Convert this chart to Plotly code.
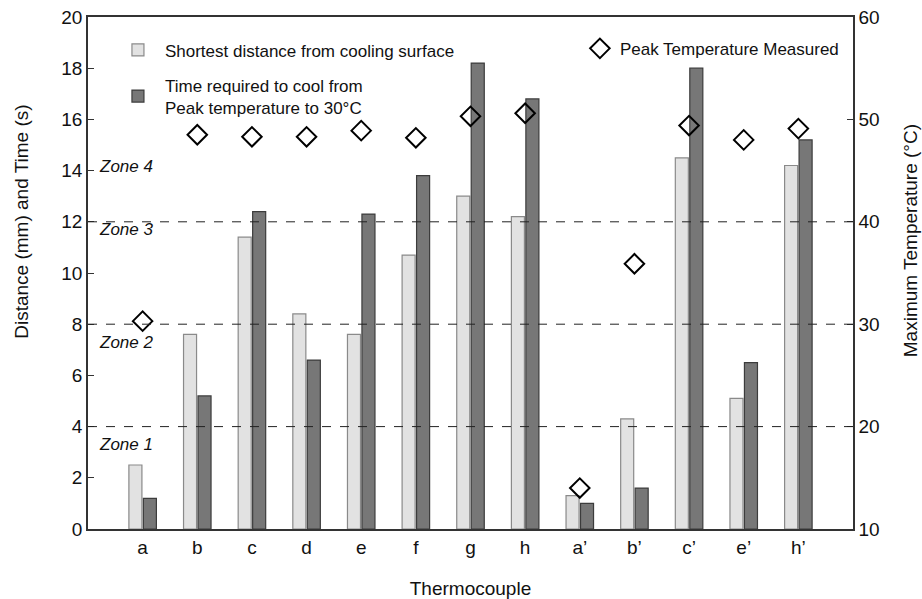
import plotly.graph_objects as go

categories = ["a", "b", "c", "d", "e", "f", "g", "h", "a\u2019", "b\u2019", "c\u2019", "e\u2019", "h\u2019"]
distance_mm = [2.5, 7.6, 11.4, 8.4, 7.6, 10.7, 13.0, 12.2, 1.3, 4.3, 14.5, 5.1, 14.2]
cool_time_s = [1.2, 5.2, 12.4, 6.6, 12.3, 13.8, 18.2, 16.8, 1.0, 1.6, 18.0, 6.5, 15.2]
peak_temp_c = [30.3, 48.5, 48.3, 48.3, 48.9, 48.2, 50.3, 50.6, 14.0, 35.9, 49.4, 48.0, 49.1]
zone_bounds = [4, 8, 12]
zone_labels = ["Zone 1", "Zone 2", "Zone 3", "Zone 4"]
zone_label_y = [3.3, 7.3, 11.7, 14.15]

FONT = "Liberation Sans, Arial, Helvetica, sans-serif"
xidx = list(range(len(categories)))

fig = go.Figure()
fig.add_trace(go.Bar(
    x=xidx, y=distance_mm, name="Shortest distance from cooling surface",
    marker=dict(color="#e2e2e2", line=dict(color="#8a8a8a", width=1.2)),
    legend="legend", legendgroup="g1",
))
fig.add_trace(go.Bar(
    x=xidx, y=cool_time_s, name="Time required to cool from<br>Peak temperature to 30\u00b0C",
    marker=dict(color="#777777", line=dict(color="#3c3c3c", width=1.2)),
    legend="legend", legendgroup="g2",
))
fig.add_trace(go.Scatter(
    x=xidx, y=peak_temp_c, yaxis="y2", mode="markers",
    name="Peak Temperature Measured",
    marker=dict(symbol="diamond-open", size=15, color="black", line=dict(width=2, color="black")),
    legend="legend2",
))

for yb in zone_bounds:
    fig.add_shape(type="line", xref="paper", x0=0, x1=1, yref="y", y0=yb, y1=yb,
                  line=dict(color="#222222", width=1, dash="dash"), layer="above")

for lab, yl in zip(zone_labels, zone_label_y):
    fig.add_annotation(text=lab, xref="paper", x=0.012, xanchor="left", yref="y", y=yl,
                       yanchor="middle", showarrow=False,
                       font=dict(family=FONT, size=17, color="#111111", style="italic"))

fig.add_annotation(text="Distance (mm) and Time (s)", xref="paper", yref="paper",
                   x=-0.0863, y=0.6, textangle=-90, showarrow=False, xanchor="center", yanchor="middle",
                   font=dict(family=FONT, size=19, color="#111111"))
fig.add_annotation(text="Maximum Temperature (\u00b0C)", xref="paper", yref="paper",
                   x=1.0745, y=0.564, textangle=-90, showarrow=False, xanchor="center", yanchor="middle",
                   font=dict(family=FONT, size=19, color="#111111"))

axis_common = dict(showline=True, linecolor="#333333", linewidth=1.5, showgrid=False, zeroline=False,
                   automargin=False,
                   tickfont=dict(family=FONT, size=19, color="#111111"))

fig.update_layout(
    width=922, height=599,
    margin=dict(l=88, r=69, t=17, b=70),
    paper_bgcolor="white", plot_bgcolor="white",
    barmode="group", bargap=0.47, bargroupgap=0.1,
    font=dict(family=FONT, color="#111111"),
    xaxis=dict(**axis_common, range=[-1, 13], tickvals=xidx, ticktext=categories, ticks="",
               mirror=True,
               title=dict(text="Thermocouple", font=dict(family=FONT, size=19, color="#111111"), standoff=28)),
    yaxis=dict(**axis_common, range=[0, 20], dtick=2, ticks="inside", ticklen=6, tickcolor="#333333"),
    yaxis2=dict(**axis_common, range=[10, 60], dtick=10, ticks="inside", ticklen=6, tickcolor="#333333",
                overlaying="y", side="right"),
    legend=dict(x=0.030, y=0.970, xanchor="left", yanchor="top", bgcolor="rgba(0,0,0,0)",
                font=dict(family=FONT, size=17, color="#111111"), traceorder="grouped",
                tracegroupgap=10, itemwidth=44),
    legend2=dict(x=0.643, y=0.973, xanchor="left", yanchor="top", bgcolor="rgba(0,0,0,0)",
                 font=dict(family=FONT, size=17, color="#111111")),
)

fig.write_html("out.html")
